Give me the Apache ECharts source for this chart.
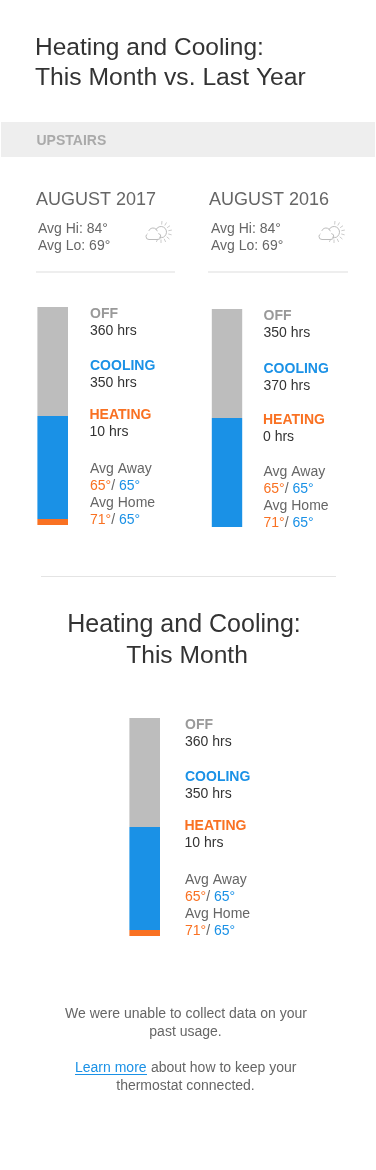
<!DOCTYPE html>
<html><head><meta charset="utf-8">
<style>html,body{margin:0;padding:0;background:#fff}#c{width:376px;height:1170px}</style>
<script src="https://cdn.jsdelivr.net/npm/echarts@6/dist/echarts.min.js"></script>
</head><body><div id="c"></div>
<script>
// Data
const categories = ['August 2017', 'August 2016', 'This Month'];
// Bar segments (hours)
const offBars = [360, 360, 360];
const coolingBars = [340, 360, 340];
const heatingBars = [20, 0, 20];
// Printed labels
const offLabels = ['360 hrs', '350 hrs', '360 hrs'];
const coolingLabels = ['350 hrs', '370 hrs', '350 hrs'];
const heatingLabels = ['10 hrs', '0 hrs', '10 hrs'];
const awayHeat = ['65°', '65°', '65°'];
const awayCool = ['65°', '65°', '65°'];
const homeHeat = ['71°', '71°', '71°'];
const homeCool = ['65°', '65°', '65°'];
const monthTitles = ['AUGUST 2017', 'AUGUST 2016'];
const avgHi = ['Avg Hi: 84°', 'Avg Hi: 84°'];
const avgLo = ['Avg Lo: 69°', 'Avg Lo: 69°'];

// Colours and layout
const GRAY = '#bdbdbd', BLUE = '#1a91e6', ORANGE = '#f97122';
const FF = '"Liberation Sans", Arial, sans-serif';
const barBox = [
  {left: 37.4, top: 307, width: 30.6, height: 218},
  {left: 211.8, top: 309, width: 30.4, height: 218},
  {left: 129.4, top: 718, width: 30.6, height: 218}
];
const textX = [90, 263.5, 185];
const heatX = [89.5, 263, 184.5];
const rowY = [
  [314, 331, 366, 383, 415, 432, 469, 486, 503, 520],
  [316, 333, 369, 386, 420, 437, 472, 489, 506, 523],
  [725, 742, 777, 794, 826, 843, 880, 897, 914, 931]
];

function txt(x, y, text, size, fill, opts) {
  opts = opts || {};
  return {type: 'text', silent: true, x: x, y: y, style: {
    text: text, fill: fill, textAlign: opts.align || 'left', textVerticalAlign: 'middle',
    font: (opts.bold ? 'bold ' : '') + size + 'px ' + FF, rich: opts.rich
  }};
}
function rect(x, y, w, h, fill) {
  return {type: 'rect', silent: true, shape: {x: x, y: y, width: w, height: h}, style: {fill: fill}};
}
function tempRich() {
  const f = '14px ' + FF;
  return {h: {fill: ORANGE, font: f}, s: {fill: '#666', font: f}, c: {fill: BLUE, font: f}};
}
function weatherIcon(x, y) {
  const st = {stroke: '#bcbcbc', fill: null, lineWidth: 1};
  const rays = [-60, -35, -10, 15, 40, 65, 90, 115, -85];
  const children = [{type: 'arc', shape: {cx: 15.5, cy: 10, r: 5.5, startAngle: -2.7, endAngle: 1.9}, style: st}];
  rays.forEach(function (d) {
    const a = d * Math.PI / 180;
    children.push({type: 'line', shape: {
      x1: 15.5 + Math.cos(a) * 7.5, y1: 10 + Math.sin(a) * 7.5,
      x2: 15.5 + Math.cos(a) * 11, y2: 10 + Math.sin(a) * 11
    }, style: {stroke: '#cccccc', lineWidth: 1}});
  });
  children.push({type: 'arc', shape: {cx: 3.5, cy: 14.5, r: 3, startAngle: 1.57, endAngle: 4.2}, style: st});
  children.push({type: 'arc', shape: {cx: 7.5, cy: 10.5, r: 4.5, startAngle: 3.5, endAngle: 6.0}, style: st});
  children.push({type: 'arc', shape: {cx: 12.3, cy: 14.5, r: 3, startAngle: -1.4, endAngle: 1.57}, style: st});
  children.push({type: 'line', shape: {x1: 3.5, y1: 17.5, x2: 12.3, y2: 17.5}, style: st});
  return {type: 'group', x: x, y: y, silent: true, children: children};
}

const elements = [
  txt(35, 48, 'Heating and Cooling:', 24.5, '#333'),
  txt(35, 78, 'This Month vs. Last Year', 24.7, '#333'),
  rect(1, 122, 374, 35, '#eeeeee'),
  txt(36.5, 141, 'UPSTAIRS', 14, '#aaa', {bold: true}),
  rect(36, 271, 139, 2, '#eeeeee'),
  rect(208, 271, 140, 2, '#eeeeee'),
  rect(41, 576, 295, 1, '#e4e4e4'),
  txt(184, 625, 'Heating and Cooling:', 25, '#333', {align: 'center'}),
  txt(187, 656, 'This Month', 24.6, '#333', {align: 'center'}),
  txt(186, 1014, 'We were unable to collect data on your', 14, '#666', {align: 'center'}),
  txt(185.5, 1032, 'past usage.', 14, '#666', {align: 'center'}),
  txt(75, 1068, 'Learn more', 14, BLUE),
  txt(147, 1068, ' about how to keep your', 14, '#666'),
  rect(75, 1074, 72, 1, BLUE),
  txt(185.5, 1086, 'thermostat connected.', 14, '#666', {align: 'center'})
];
monthTitles.forEach(function (m, i) {
  const dx = i * 173;
  elements.push(txt(36 + dx, 200, m, 18, '#666'));
  elements.push(txt(38 + dx, 229, avgHi[i], 14, '#666'));
  elements.push(txt(38 + dx, 246, avgLo[i], 14, '#666'));
  elements.push(weatherIcon(145.5 + dx, 222));
});
categories.forEach(function (c, i) {
  const x = textX[i], y = rowY[i];
  elements.push(txt(x, y[0], 'OFF', 14, '#999', {bold: true}));
  elements.push(txt(x, y[1], offLabels[i], 14, '#333'));
  elements.push(txt(x, y[2], 'COOLING', 14, BLUE, {bold: true}));
  elements.push(txt(x, y[3], coolingLabels[i], 14, '#333'));
  elements.push(txt(heatX[i], y[4], 'HEATING', 14, ORANGE, {bold: true}));
  elements.push(txt(heatX[i], y[5], heatingLabels[i], 14, '#333'));
  elements.push(txt(x, y[6], 'Avg Away', 14, '#666'));
  elements.push(txt(x, y[7], '{h|' + awayHeat[i] + '}{s|/ }{c|' + awayCool[i] + '}', 14, '#666', {rich: tempRich()}));
  elements.push(txt(x, y[8], 'Avg Home', 14, '#666'));
  elements.push(txt(x, y[9], '{h|' + homeHeat[i] + '}{s|/ }{c|' + homeCool[i] + '}', 14, '#666', {rich: tempRich()}));
});

const grids = [], xAxes = [], yAxes = [], series = [];
categories.forEach(function (c, i) {
  grids.push(barBox[i]);
  xAxes.push({type: 'category', gridIndex: i, data: [c], show: false});
  yAxes.push({type: 'value', gridIndex: i, min: 0, max: 720, show: false});
  [['Heating', heatingBars, ORANGE], ['Cooling', coolingBars, BLUE], ['Off', offBars, GRAY]].forEach(function (s) {
    series.push({
      type: 'bar', name: s[0], stack: 'b' + i, xAxisIndex: i, yAxisIndex: i,
      barWidth: '100%', data: [s[1][i]], itemStyle: {color: s[2]}, silent: true
    });
  });
});

const chart = echarts.init(document.getElementById('c'), null, {renderer: 'canvas', width: 376, height: 1170});
chart.setOption({
  animation: false, backgroundColor: '#fff',
  grid: grids, xAxis: xAxes, yAxis: yAxes, series: series,
  graphic: {elements: elements}
});
</script></body></html>
